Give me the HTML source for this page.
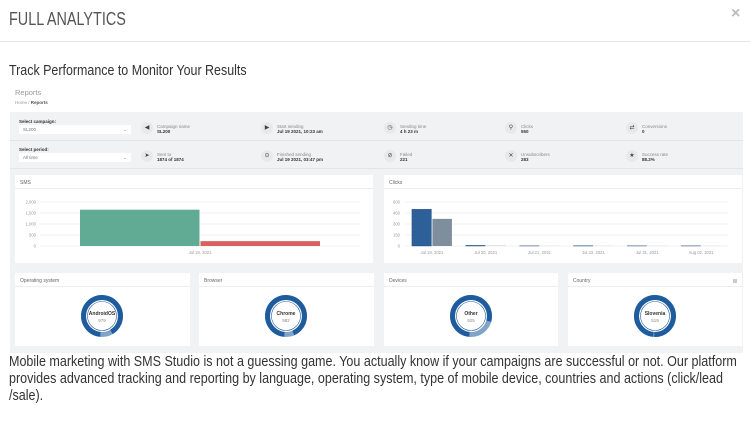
<!DOCTYPE html>
<html><head><meta charset="utf-8">
<style>
*{margin:0;padding:0;box-sizing:border-box}
body{width:750px;height:421px;background:#fff;font-family:"Liberation Sans",sans-serif;position:relative;overflow:hidden;color:#333}
.a{position:absolute}
.card{position:absolute;background:#fff}
.ch{position:absolute;left:0;right:0;top:0;height:14px;border-bottom:1px solid #eee;font-size:5px;color:#666;padding:5px 5px}
.lbl{font-size:4.5px;color:#888}
.val{font-size:4.5px;color:#333;font-weight:bold}
.ic{position:absolute;width:12px;height:12px;border-radius:50%;background:#e8e9eb;font-size:6px;text-align:center;line-height:12px;color:#444}
.sel{position:absolute;width:112px;height:9px;background:#fff;font-size:4.5px;color:#777;padding:2px 4px}
</style></head><body>
<div class="a" style="left:9px;top:9px;font-size:18px;color:#555;transform:scaleX(0.8);transform-origin:left top;white-space:nowrap">FULL ANALYTICS</div>
<div class="a" style="left:731px;top:5px;font-size:16px;color:#bbb;font-weight:bold">×</div>
<div class="a" style="left:0;top:41px;width:750px;height:1px;background:#e5e5e5"></div>
<div class="a" style="left:9px;top:62px;font-size:15px;color:#333;transform:scaleX(0.83);transform-origin:left top;white-space:nowrap">Track Performance to Monitor Your Results</div>
<div class="a" style="left:15px;top:88px;font-size:7.5px;color:#999">Reports</div>
<div class="a" style="left:15px;top:100px;font-size:4.5px;color:#999">Home / <b style="color:#555">Reports</b></div>

<div class="a" style="left:10px;top:112px;width:733px;height:241px;background:#f1f2f4"></div>
<div class="a" style="left:10px;top:140px;width:733px;height:1px;background:#e3e4e6"></div>
<div class="a" style="left:10px;top:168px;width:733px;height:1px;background:#e3e4e6"></div>

<div class="a val" style="left:19px;top:119px">Select campaign:</div>
<div class="sel" style="left:19px;top:125px">SL200<span style="float:right">⌄</span></div>
<div class="a val" style="left:19px;top:147px">Select period:</div>
<div class="sel" style="left:19px;top:153px">All time<span style="float:right">⌄</span></div>

<div class="ic" style="left:141px;top:122px">◀</div><div class="a" style="left:157px;top:124px"><div class="lbl">Campaign name</div><div class="val">SL200</div></div>
<div class="ic" style="left:261px;top:122px">▶</div><div class="a" style="left:277px;top:124px"><div class="lbl">Start sending</div><div class="val">Jul 19 2021, 10:23 am</div></div>
<div class="ic" style="left:384px;top:122px">◷</div><div class="a" style="left:400px;top:124px"><div class="lbl">Sending time</div><div class="val">4 h 23 m</div></div>
<div class="ic" style="left:505px;top:122px">⚲</div><div class="a" style="left:521px;top:124px"><div class="lbl">Clicks</div><div class="val">550</div></div>
<div class="ic" style="left:626px;top:122px">⇄</div><div class="a" style="left:642px;top:124px"><div class="lbl">Conversions</div><div class="val">0</div></div>

<div class="ic" style="left:141px;top:150px">➤</div><div class="a" style="left:157px;top:152px"><div class="lbl">Sent to</div><div class="val">1874 of 1874</div></div>
<div class="ic" style="left:261px;top:150px">⊙</div><div class="a" style="left:277px;top:152px"><div class="lbl">Finished sending</div><div class="val">Jul 19 2021, 03:47 pm</div></div>
<div class="ic" style="left:384px;top:150px">⊘</div><div class="a" style="left:400px;top:152px"><div class="lbl">Failed</div><div class="val">221</div></div>
<div class="ic" style="left:505px;top:150px">✕</div><div class="a" style="left:521px;top:152px"><div class="lbl">Unsubscribers</div><div class="val">283</div></div>
<div class="ic" style="left:626px;top:150px">★</div><div class="a" style="left:642px;top:152px"><div class="lbl">Success rate</div><div class="val">88.2%</div></div>

<div class="card" style="left:15px;top:175px;width:358px;height:88px"><div class="ch">SMS</div></div>
<div class="card" style="left:384px;top:175px;width:358px;height:88px"><div class="ch">Clicks</div></div>
<div class="card" style="left:15px;top:273px;width:175px;height:73px"><div class="ch">Operating system</div></div>
<div class="card" style="left:199px;top:273px;width:175px;height:73px"><div class="ch">Browser</div></div>
<div class="card" style="left:384px;top:273px;width:174px;height:73px"><div class="ch">Devices</div></div>
<div class="card" style="left:568px;top:273px;width:174px;height:73px"><div class="ch">Country</div><div class="a" style="right:5px;top:6px;width:4px;height:4px;background:#ccc"></div></div>

<svg class="a" style="left:0;top:0" width="750" height="421" id="svg"></svg>

<div class="a" style="left:9px;top:354px;font-size:14.5px;line-height:17px;color:#333;white-space:nowrap;transform:scaleX(0.865);transform-origin:left top">Mobile marketing with SMS Studio is not a guessing game. You actually know if your campaigns are successful or not. Our platform<br>provides advanced tracking and reporting by language, operating system, type of mobile device, countries and actions (click/lead<br>/sale).</div>

<script>
const smsCategories=["Jul 19, 2021"];
const smsDelivered=[1650];
const smsFailed=[221];
const smsTicks=[0,500,1000,1500,2000];
const smsTickLabels=["0","500","1,000","1,500","2,000"];
const clickCategories=["Jul 19, 2021","Jul 20, 2021","Jul 21, 2021","Jul 22, 2021","Jul 31, 2021","Aug 02, 2021"];
const clickTotal=[500,8,2,3,2,2];
const clickUnique=[370,3,1,1,1,1];
const clickTicks=[0,150,300,450,600];
const donutLabels=["AndroidOS","Chrome","Other","Slovenia"];
const donutValues=[979,982,925,519];
const donutShares=[0.9,0.92,0.78,0.99];

const svg=document.getElementById('svg');
const NS='http://www.w3.org/2000/svg';
function mk(t,a,p){const e=document.createElementNS(NS,t);for(const k in a)e.setAttribute(k,a[k]);(p||svg).appendChild(e);return e;}

const sY=v=>246-v/2000*44;
const sx0=40,sx1=360;
smsTicks.forEach((t,i)=>{
  const g=mk('line',{x1:sx0,x2:sx1,y1:sY(t),y2:sY(t),stroke:'#e6e6e6','stroke-width':0.6});
  
  
  const tx=mk('text',{x:36,y:sY(t)+1.5,'font-size':4.2,fill:'#999','text-anchor':'end'});tx.textContent=smsTickLabels[i];
  
  
});
const sBand=(sx1-sx0)/smsCategories.length;
smsCategories.forEach((c,i)=>{
  const cx=sx0+sBand*(i+0.5);
  const b1=mk('rect',{x:cx-120,y:sY(smsDelivered[i]),width:119.5,height:sY(0)-sY(smsDelivered[i]),fill:'#61ab94'});
  
  
  const b2=mk('rect',{x:cx+0.5,y:sY(smsFailed[i]),width:119.5,height:sY(0)-sY(smsFailed[i]),fill:'#d9625e'});
  
  
  const t=mk('text',{x:cx,y:254,'font-size':4.2,fill:'#999','text-anchor':'middle'});t.textContent=c;
  
  
});

const cY=v=>246-v/600*44;
const cx0=405,cx1=728;
clickTicks.forEach(t=>{
  const g=mk('line',{x1:cx0,x2:cx1,y1:cY(t),y2:cY(t),stroke:'#e6e6e6','stroke-width':0.6});
  
  
  const tx=mk('text',{x:400,y:cY(t)+1.5,'font-size':4.2,fill:'#999','text-anchor':'end'});tx.textContent=t;
  
  
});
const cBand=(cx1-cx0)/clickCategories.length;
clickCategories.forEach((c,i)=>{
  const cx=cx0+cBand*(i+0.5);
  const b1=mk('rect',{x:cx-20,y:cY(clickTotal[i]),width:19.5,height:cY(0)-cY(clickTotal[i]),fill:'#2d5f98',stroke:'#1f4a7c','stroke-width':0.4});
  
  
  const b2=mk('rect',{x:cx+0.5,y:cY(clickUnique[i]),width:19.5,height:cY(0)-cY(clickUnique[i]),fill:'#7e8e9c'});
  
  
  const t=mk('text',{x:cx,y:254,'font-size':4.2,fill:'#999','text-anchor':'middle'});t.textContent=c;
  
  
});

const centers=[[102,316],[286,316],[471,316],[655,316]];
donutLabels.forEach((lab,i)=>{
  const [cx,cy]=centers[i];const r=18.5;const C=2*Math.PI*r;const s=donutShares[i];
  const ring=mk('circle',{cx,cy,r,fill:'none',stroke:'#7fa3c9','stroke-width':5});
  
  
  const arc=mk('circle',{cx,cy,r,fill:'none',stroke:'#1f5c9e','stroke-width':5,'stroke-dasharray':(C*s)+' '+C,transform:`rotate(95 ${cx} ${cy})`});
  
  
  mk('circle',{cx,cy,r:14.5,fill:'#fff',stroke:'#2d5f98','stroke-width':0.6});
  const t=mk('text',{x:cx,y:cy-1,'font-size':5,'font-weight':'bold',fill:'#333','text-anchor':'middle'});t.textContent=lab;
  
  
  const v=mk('text',{x:cx,y:cy+6,'font-size':4.5,fill:'#888','text-anchor':'middle'});v.textContent=donutValues[i];
  
  
});
</script>
</body></html>
